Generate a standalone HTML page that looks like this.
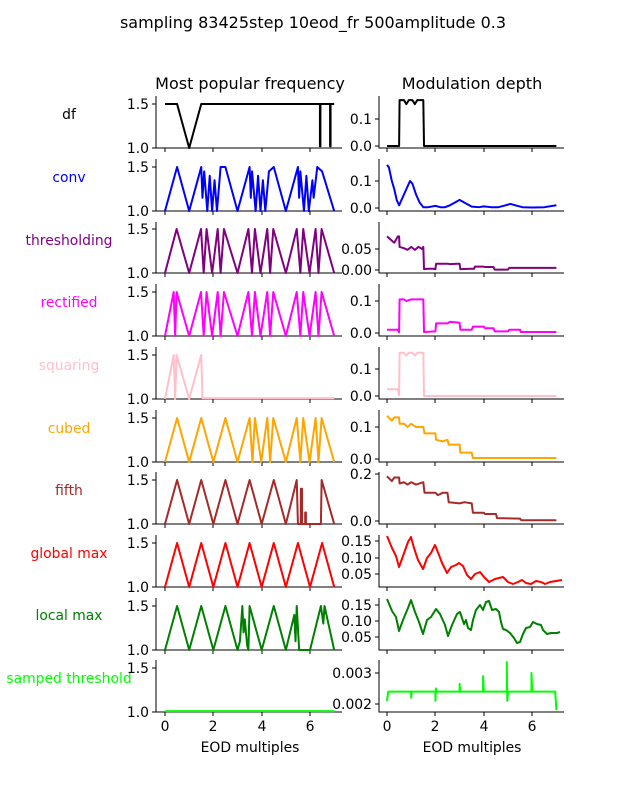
<!DOCTYPE html>
<html><head><meta charset="utf-8"><style>
html,body{margin:0;padding:0;background:#fff}
svg{display:block}
text{font-family:"DejaVu Sans","Liberation Sans",sans-serif;fill:#000}
.ln{fill:none;stroke-width:2;vector-effect:non-scaling-stroke;stroke-linejoin:round}
.sp{stroke:#000;stroke-width:1;fill:none}
</style></head><body>
<svg width="627" height="800" viewBox="0 0 627 800" xmlns="http://www.w3.org/2000/svg">
<text x="313" y="28" font-size="16" text-anchor="middle">sampling 83425step 10eod_fr 500amplitude 0.3</text>
<text x="250" y="89" font-size="16" text-anchor="middle">Most popular frequency</text>
<text x="472" y="89" font-size="16" text-anchor="middle">Modulation depth</text>

<g font-size="13.9" text-anchor="middle">
<text x="69" y="119" fill="#000">df</text>
<text x="69" y="182" style="fill:blue">conv</text>
<text x="69" y="245" style="fill:purple">thresholding</text>
<text x="69" y="307" style="fill:magenta">rectified</text>
<text x="69" y="370" style="fill:pink">squaring</text>
<text x="69" y="433" style="fill:orange">cubed</text>
<text x="69" y="495" style="fill:brown">fifth</text>
<text x="69" y="558" style="fill:red">global max</text>
<text x="69" y="620" style="fill:green">local max</text>
<text x="69" y="683" style="fill:lime">samped threshold</text>
</g>

<g class="sp">
<path d="M156,96V148H342 M379,96V148H564"/>
<path d="M156,159V211H342 M379,159V211H564"/>
<path d="M156,222V273H342 M379,222V273H564"/>
<path d="M156,284V336H342 M379,284V336H564"/>
<path d="M156,347V399H342 M379,347V399H564"/>
<path d="M156,410V462H342 M379,410V462H564"/>
<path d="M156,472V524H342 M379,472V524H564"/>
<path d="M156,535V587H342 M379,535V587H564"/>
<path d="M156,598V650H342 M379,598V650H564"/>
<path d="M156,660V712H342 M379,660V712H564"/>
</g>
<g class="sp">
<path d="M165,148v4M213,148v4M262,148v4M310,148v4M387,148v4M435,148v4M484,148v4M532,148v4"/>
<path d="M165,211v4M213,211v4M262,211v4M310,211v4M387,211v4M435,211v4M484,211v4M532,211v4"/>
<path d="M165,273v4M213,273v4M262,273v4M310,273v4M387,273v4M435,273v4M484,273v4M532,273v4"/>
<path d="M165,336v4M213,336v4M262,336v4M310,336v4M387,336v4M435,336v4M484,336v4M532,336v4"/>
<path d="M165,399v4M213,399v4M262,399v4M310,399v4M387,399v4M435,399v4M484,399v4M532,399v4"/>
<path d="M165,462v4M213,462v4M262,462v4M310,462v4M387,462v4M435,462v4M484,462v4M532,462v4"/>
<path d="M165,524v4M213,524v4M262,524v4M310,524v4M387,524v4M435,524v4M484,524v4M532,524v4"/>
<path d="M165,587v4M213,587v4M262,587v4M310,587v4M387,587v4M435,587v4M484,587v4M532,587v4"/>
<path d="M165,650v4M213,650v4M262,650v4M310,650v4M387,650v4M435,650v4M484,650v4M532,650v4"/>
<path d="M165,712v4M213,712v4M262,712v4M310,712v4M387,712v4M435,712v4M484,712v4M532,712v4"/>
</g>
<g font-size="13.9" text-anchor="middle">
<text x="165" y="731">0</text><text x="213" y="731">2</text><text x="262" y="731">4</text><text x="310" y="731">6</text>
<text x="387" y="731">0</text><text x="435" y="731">2</text><text x="484" y="731">4</text><text x="532" y="731">6</text>
<text x="250" y="752">EOD multiples</text><text x="472" y="752">EOD multiples</text>
</g>
<g class="sp">
<path d="M156,148h-4M156,104h-4 M156,211h-4M156,167h-4 M156,273h-4M156,229h-4 M156,336h-4M156,292h-4 M156,399h-4M156,355h-4 M156,462h-4M156,418h-4 M156,524h-4M156,480h-4 M156,587h-4M156,543h-4 M156,650h-4M156,606h-4 M156,712h-4M156,668h-4"/>
</g>
<g font-size="13.9" text-anchor="end">
<text x="149" y="153">1.0</text><text x="149" y="109">1.5</text>
<text x="149" y="216">1.0</text><text x="149" y="172">1.5</text>
<text x="149" y="278">1.0</text><text x="149" y="234">1.5</text>
<text x="149" y="341">1.0</text><text x="149" y="297">1.5</text>
<text x="149" y="404">1.0</text><text x="149" y="360">1.5</text>
<text x="149" y="467">1.0</text><text x="149" y="423">1.5</text>
<text x="149" y="529">1.0</text><text x="149" y="485">1.5</text>
<text x="149" y="592">1.0</text><text x="149" y="548">1.5</text>
<text x="149" y="655">1.0</text><text x="149" y="611">1.5</text>
<text x="149" y="717">1.0</text><text x="149" y="673">1.5</text>
</g>
<g class="sp">
<path d="M379,146h-4M379,119h-4 M379,208h-4M379,181h-4 M379,270h-4M379,249h-4 M379,333h-4M379,301h-4 M379,396h-4M379,369h-4 M379,459h-4M379,427h-4 M379,521h-4M379,474h-4 M379,574h-4M379,558h-4M379,541h-4 M379,637h-4M379,621h-4M379,605h-4 M379,704h-4M379,673h-4"/>
</g>
<g font-size="13.9" text-anchor="end">
<text x="372" y="151">0.0</text><text x="372" y="124">0.1</text>
<text x="372" y="213">0.0</text><text x="372" y="186">0.1</text>
<text x="372" y="275">0.00</text><text x="372" y="254">0.05</text>
<text x="372" y="338">0.0</text><text x="372" y="306">0.1</text>
<text x="372" y="401">0.0</text><text x="372" y="374">0.1</text>
<text x="372" y="464">0.0</text><text x="372" y="432">0.1</text>
<text x="372" y="526">0.0</text><text x="372" y="479">0.2</text>
<text x="372" y="579">0.05</text><text x="372" y="563">0.10</text><text x="372" y="546">0.15</text>
<text x="372" y="642">0.05</text><text x="372" y="626">0.10</text><text x="372" y="610">0.15</text>
<text x="372" y="709">0.002</text><text x="372" y="678">0.003</text>
</g>

<g transform="translate(165,148) scale(24.17,-88)"><polyline class="ln" stroke="#000" points="0,0.5 0.5,0.5 1,0 1.5,0.5 6.41,0.5 6.41,0.02 6.43,0.02 6.43,0.5 6.83,0.5 6.83,0.02 6.85,0.02 6.85,0.5 7,0.5"/></g>
<g transform="translate(165,211) scale(24.17,-88)"><polyline class="ln" stroke="blue" points="0,0 0.5,0.5 1,0 1.5,0.5 1.55,0.15 1.62,0.45 1.75,0 1.85,0.4 1.95,0 2.05,0.35 2.15,0 2.3,0.5 2.5,0.5 3,0 3.5,0.5 3.55,0.15 3.6,0.45 3.75,0 3.85,0.4 3.95,0 4.05,0.35 4.15,0 4.3,0.45 4.5,0.5 5,0 5.5,0.5 5.55,0.15 5.6,0.45 5.75,0 5.85,0.4 5.95,0 6.1,0.35 6.15,0.15 6.3,0.5 6.5,0.45 7,0"/></g>
<g transform="translate(165,273) scale(24.17,-88)"><polyline class="ln" stroke="purple" points="0,0 0.48,0.5 1,0 1.49,0.5 1.6,0 1.72,0.5 1.95,0 2.18,0.5 2.3,0 2.44,0.5 3,0 3.45,0.5 3.6,0 3.72,0.5 3.95,0 4.23,0.5 4.35,0 4.48,0.5 5,0 5.45,0.5 5.6,0 5.72,0.5 5.98,0 6.23,0.5 6.35,0 6.48,0.5 7,0"/></g>
<g transform="translate(165,336) scale(24.17,-88)"><polyline class="ln" stroke="magenta" points="0,0 0.36,0.5 0.42,0 0.48,0.5 1,0 1.49,0.5 1.6,0 1.72,0.5 1.95,0 2.18,0.5 2.3,0 2.44,0.5 3,0 3.45,0.5 3.6,0 3.72,0.5 3.95,0 4.23,0.5 4.35,0 4.48,0.5 5,0 5.45,0.5 5.6,0 5.72,0.5 5.98,0 6.23,0.5 6.35,0 6.48,0.5 7,0"/></g>
<g transform="translate(165,399) scale(24.17,-88)"><polyline class="ln" stroke="pink" points="0,0 0.36,0.5 0.42,0 0.48,0.5 1,0 1.5,0.5 1.55,0.01 7,0.01"/></g>
<g transform="translate(165,462) scale(24.17,-88)"><polyline class="ln" stroke="orange" points="0,0 0.5,0.5 1,0 1.5,0.5 2,0 2.5,0.5 3,0 3.5,0.5 3.62,0 3.72,0.5 3.98,0 4.23,0.5 4.35,0 4.48,0.5 5,0 5.45,0.5 5.6,0 5.72,0.5 5.98,0 6.23,0.5 6.35,0 6.48,0.5 7,0"/></g>
<g transform="translate(165,524) scale(24.17,-88)"><polyline class="ln" stroke="brown" points="0,0 0.5,0.5 1,0 1.5,0.5 2,0 2.5,0.5 3,0 3.5,0.5 4,0 4.5,0.5 5,0 5.45,0.5 5.5,0 5.62,0 5.62,0.4 5.67,0.4 5.67,0 5.8,0 5.8,0.13 5.83,0.13 5.83,0 6.45,0 6.48,0.5 7,0"/></g>
<g transform="translate(165,587) scale(24.17,-88)"><polyline class="ln" stroke="red" points="0,0 0.5,0.5 1,0 1.5,0.5 2,0 2.5,0.5 3,0 3.5,0.5 4,0 4.5,0.5 5,0 5.5,0.5 6,0 6.5,0.5 7,0"/></g>
<g transform="translate(165,650) scale(24.17,-88)"><polyline class="ln" stroke="green" points="0,0 0.5,0.5 1,0 1.5,0.5 2,0 2.5,0.5 3,0 3.1,0.1 3.2,0.5 3.25,0.2 3.3,0.35 3.4,0.05 3.45,0 3.5,0.5 4,0 4.5,0.5 5,0 5.35,0.4 5.4,0.1 5.45,0.5 5.55,0 6,0 6.45,0.5 6.55,0.3 6.6,0.5 7,0"/></g>
<g transform="translate(165,712) scale(24.17,-88)"><polyline class="ln" stroke="lime" points="0,0.01 7,0.01"/></g>

<g transform="translate(387,146) scale(24.2,-270)"><polyline class="ln" stroke="#000" points="0,0 0.5,0 0.52,0.17 0.7,0.17 0.8,0.155 0.9,0.17 1.05,0.17 1.15,0.155 1.25,0.17 1.5,0.17 1.53,0 7,0"/></g>
<g transform="translate(387,208) scale(24.2,-270)"><polyline class="ln" stroke="blue" points="0,0.16 0.08,0.15 0.2,0.1 0.3,0.07 0.4,0.03 0.5,0.01 0.6,0.03 0.8,0.07 0.95,0.1 1.05,0.09 1.2,0.05 1.35,0.02 1.5,0.003 1.7,0.003 2,0.008 2.2,0.003 2.4,0.003 2.6,0.01 2.8,0.02 3,0.03 3.2,0.02 3.5,0.005 3.8,0.003 4,0.006 4.3,0.003 4.6,0.003 4.9,0.01 5.1,0.015 5.3,0.01 5.6,0.003 6,0.002 6.5,0.003 7,0.01"/></g>
<g transform="translate(387,270) scale(24.2,-420)"><polyline class="ln" stroke="purple" points="0,0.08 0.2,0.07 0.3,0.065 0.45,0.08 0.5,0.08 0.52,0.055 0.7,0.052 0.85,0.048 1,0.055 1.15,0.048 1.3,0.055 1.45,0.05 1.5,0.055 1.53,0.002 1.7,0.003 1.9,0.003 2,0.002 2.03,0.015 2.5,0.015 2.6,0.014 2.9,0.015 3,0.015 3.03,0.002 3.5,0.003 3.6,0.003 3.63,0.008 4,0.008 4.05,0.007 4.4,0.007 4.45,0.001 5,0.001 5.05,0.005 5.5,0.005 7,0.005"/></g>
<g transform="translate(387,333) scale(24.2,-320)"><polyline class="ln" stroke="magenta" points="0,0.01 0.45,0.01 0.5,0.002 0.52,0.105 0.7,0.105 0.8,0.1 1,0.105 1.5,0.105 1.53,0.003 2,0.005 2.03,0.03 2.5,0.03 2.6,0.035 3,0.032 3.03,0.01 3.5,0.01 3.55,0.02 4,0.02 4.05,0.015 4.4,0.015 4.45,0.005 5,0.005 5.05,0.01 5.5,0.01 5.53,0.003 7,0.003"/></g>
<g transform="translate(387,396) scale(24.2,-270)"><polyline class="ln" stroke="pink" points="0,0.025 0.45,0.025 0.5,0.003 0.52,0.16 0.7,0.16 0.8,0.15 0.9,0.16 1.05,0.16 1.15,0.15 1.25,0.16 1.5,0.16 1.53,0 7,0"/></g>
<g transform="translate(387,459) scale(24.2,-320)"><polyline class="ln" stroke="orange" points="0,0.135 0.2,0.12 0.3,0.13 0.5,0.13 0.52,0.11 0.7,0.11 0.85,0.1 1,0.11 1.2,0.1 1.5,0.1 1.55,0.08 2,0.08 2.03,0.06 2.3,0.055 2.5,0.06 2.55,0.045 3,0.045 3.03,0.02 3.5,0.02 3.55,0.003 7,0.003"/></g>
<g transform="translate(387,521) scale(24.2,-235)"><polyline class="ln" stroke="brown" points="0,0.19 0.2,0.17 0.3,0.185 0.5,0.185 0.52,0.16 0.7,0.165 0.85,0.155 1,0.165 1.2,0.155 1.5,0.165 1.55,0.12 2,0.12 2.1,0.11 2.3,0.12 2.5,0.12 2.55,0.08 3,0.075 3.2,0.08 3.5,0.075 3.55,0.035 4,0.035 4.05,0.03 4.5,0.03 4.55,0.012 5.5,0.01 5.55,0.003 7,0.003"/></g>
<g><polyline class="ln" stroke="red" points="387,536 392,548 396,556 399,567 403,556 408,542 411,537 414,548 418,560 423,569 427,558 431,553 435,545 439,555 442,563 447,573 451,567 456,565 459,563 463,566 467,575 471,579 475,574 480,572 484,577 489,582 495,579 499,578 503,577 508,582 513,584 518,582 522,580 526,583 531,584 536,581 541,582 545,584 550,582 556,581 562,580"/></g>
<g><polyline class="ln" stroke="green" points="387,599 392,611 396,617 399,631 403,620 408,608 411,600 415,612 419,622 423,634 427,620 431,617 436,609 440,614 445,625 448,636 452,625 457,614 460,612 464,624 466,620 468,628 471,630 473,620 476,610 480,605 483,610 486,602 489,601 492,610 496,609 499,612 501,622 503,629 506,630 510,633 514,638 517,643 520,642 523,634 526,628 530,627 533,622 537,624 541,625 543,630 547,634 551,633 557,633 560,632"/></g>
<g transform="translate(387,704) scale(24.2,-31000)"><polyline class="ln" stroke="lime" points="0,0.0001 0.05,0.0004 1,0.0004 1,0.0002 1.02,0.0004 2,0.0004 2,0.0001 2.02,0.0005 2.04,0.0004 3,0.0004 3,0.00065 3.02,0.0004 3.97,0.0004 3.97,0.0009 4,0.0004 4.95,0.0004 4.95,0.00135 4.97,0.0001 5,0.0004 5.97,0.0004 5.97,0.001 6,0.0004 6.95,0.0004 7,-0.0002"/></g>
</svg>
</body></html>
